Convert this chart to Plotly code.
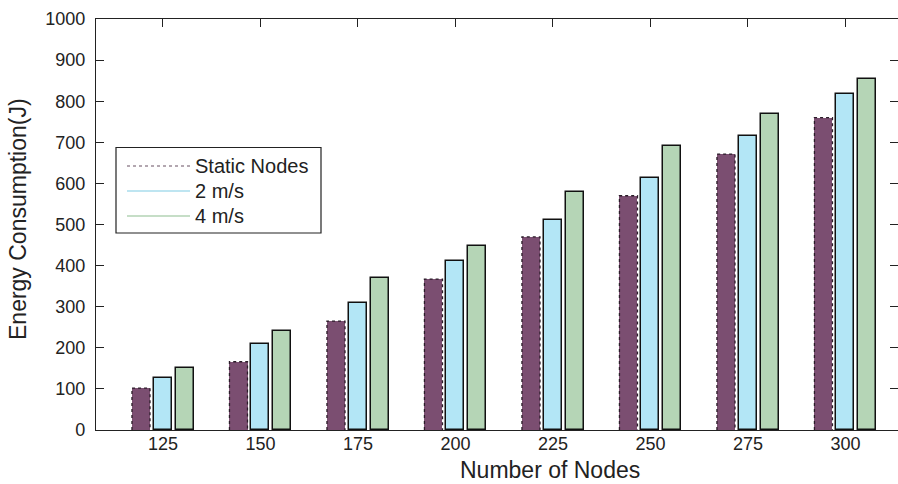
import plotly.graph_objects as go

# ---- data ----
categories = ["125", "150", "175", "200", "225", "250", "275", "300"]
series_names = ["Static Nodes", "2 m/s", "4 m/s"]
static_nodes = [102, 166, 265, 367, 470, 570, 671, 760]
speed_2 = [126, 210, 308, 410, 510, 613, 716, 818]
speed_4 = [150, 240, 370, 448, 578, 691, 769, 853]
y_ticks = [0, 100, 200, 300, 400, 500, 600, 700, 800, 900, 1000]

series_values = [static_nodes, speed_2, speed_4]
fill_colors = ["#7b4e71", "#b3e6f6", "#b5d5b6"]
legend_line_colors = ["#9a8a96", "#a9dcec", "#b3d3b4"]
legend_dash = ["dot", "solid", "solid"]

W, H = 898, 484
ML, MR, MT, MB = 96, 0, 19, 54
PW, PH = W - ML - MR, H - MT - MB

pos = list(range(1, len(categories) + 1))
offset = 0.2256
bar_w = 0.185
x_range = [0.313, 8.539]

def px_x(p):
    return (p - ML) / PW

def px_y(p):
    return (H - MB - p) / PH

fig = go.Figure()

for k, vals in enumerate(series_values):
    xs = [p + (k - 1) * offset for p in pos]
    if k == 0:
        line = dict(width=0)
    else:
        line = dict(color="#111111", width=1.5)
    fig.add_trace(go.Bar(
        x=xs, y=vals, width=bar_w, name=series_names[k],
        marker=dict(color=fill_colors[k], line=line),
        showlegend=False, hoverinfo="skip",
    ))

# dotted outline for the static-node bars, built from the same data
ox, oy = [], []
for p, v in zip(pos, static_nodes):
    x0 = p - offset - bar_w / 2
    x1 = p - offset + bar_w / 2
    ox += [x0, x0, x1, x1, None]
    oy += [0, v, v, 0, None]
fig.add_trace(go.Scatter(
    x=ox, y=oy, mode="lines",
    line=dict(color="#2a1c28", width=1.3, dash="dot"),
    showlegend=False, hoverinfo="skip",
))

# helper trace for the mirrored (top/right) axes
fig.add_trace(go.Scatter(x=[None], y=[None], xaxis="x2", yaxis="y2",
                         showlegend=False, hoverinfo="skip"))

tick_font = dict(family="Liberation Sans, Arial, sans-serif", size=18, color="#222222")

fig.update_layout(
    width=W, height=H,
    margin=dict(l=ML, r=MR, t=MT, b=MB, pad=0),
    paper_bgcolor="white", plot_bgcolor="white",
    barmode="overlay",
    bargap=0,
    showlegend=False,
    xaxis=dict(
        range=x_range, tickmode="array", tickvals=pos, ticktext=categories,
        ticks="", showline=True, linecolor="#222222", linewidth=1.2,
        showgrid=False, zeroline=False, tickfont=tick_font,
        ticklabelstandoff=-3,
    ),
    xaxis2=dict(
        range=x_range, overlaying="x", side="top", tickmode="array",
        tickvals=pos, ticks="inside", ticklen=8, tickcolor="#222222",
        showticklabels=False, showline=True, linecolor="#222222",
        linewidth=1.2, showgrid=False, zeroline=False,
    ),
    yaxis=dict(
        range=[0, 1000], tickmode="array", tickvals=y_ticks,
        ticktext=[str(v) for v in y_ticks],
        ticks="inside", ticklen=8, tickcolor="#222222",
        showline=True, linecolor="#222222", linewidth=1.2,
        showgrid=False, zeroline=False, tickfont=tick_font,
        ticklabelstandoff=6,
    ),
    yaxis2=dict(
        range=[0, 1000], overlaying="y", side="right", tickmode="array",
        tickvals=y_ticks, ticks="inside", ticklen=8, tickcolor="#222222",
        showticklabels=False, showline=False, showgrid=False, zeroline=False,
    ),
)

title_font = dict(family="Liberation Sans, Arial, sans-serif", size=23, color="#222222")
fig.add_annotation(text="Number of Nodes", xref="paper", yref="paper",
                   x=px_x(550), y=px_y(470), xanchor="center", yanchor="middle",
                   showarrow=False, font=title_font)
fig.add_annotation(text="Energy Consumption(J)", xref="paper", yref="paper",
                   x=px_x(18), y=px_y(219), xanchor="center", yanchor="middle",
                   textangle=-90, showarrow=False, font=title_font)

# legend box drawn in MATLAB style
fig.add_shape(type="rect", xref="paper", yref="paper",
              x0=px_x(116), x1=px_x(321), y0=px_y(233), y1=px_y(147.5),
              line=dict(color="#222222", width=1.2), fillcolor="white")
legend_rows = [166, 191, 216]
legend_font = dict(family="Liberation Sans, Arial, sans-serif", size=20, color="#222222")
for k, name in enumerate(series_names):
    yy = px_y(legend_rows[k])
    fig.add_shape(type="line", xref="paper", yref="paper",
                  x0=px_x(127), x1=px_x(190), y0=yy, y1=yy,
                  line=dict(color=legend_line_colors[k], width=1.3, dash=legend_dash[k]))
    fig.add_annotation(text=name, xref="paper", yref="paper",
                       x=px_x(193), y=yy, xanchor="left", yanchor="middle",
                       showarrow=False, font=legend_font)

fig.write_html(
    "out.html",
    config={"displayModeBar": False},
    post_script="document.body.style.margin='0';document.body.style.overflow='hidden';",
)
